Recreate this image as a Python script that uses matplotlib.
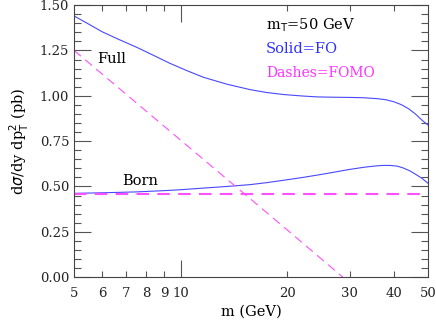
import matplotlib
matplotlib.use("Agg")
import matplotlib.pyplot as plt
from matplotlib.ticker import FixedLocator, NullFormatter, MultipleLocator

# FO curves (solid)
m_full = [5, 5.5, 6, 6.7, 7.5, 8.4, 9.3, 10.4, 11.6, 13.5, 15.7, 17.5, 19.5,
          22, 24.2, 27, 30, 33, 36, 38, 40, 42, 44, 46, 48, 50]
fo_full = [1.44, 1.395, 1.353, 1.31, 1.268, 1.222, 1.180, 1.139, 1.102, 1.064,
           1.034, 1.018, 1.007, 0.999, 0.994, 0.992, 0.991, 0.989, 0.984, 0.978,
           0.967, 0.951, 0.929, 0.900, 0.866, 0.838]

m_born = [5, 6, 7.5, 9, 10, 11.6, 13.5, 15.7, 17.5, 19.5, 22, 24.2, 27, 30,
          33, 35.5, 37.3, 39, 40.9, 42.5, 44.4, 46, 48, 50]
fo_born = [0.462, 0.465, 0.470, 0.477, 0.482, 0.491, 0.500, 0.510, 0.521, 0.534,
           0.549, 0.562, 0.578, 0.594, 0.606, 0.613, 0.616, 0.616, 0.612, 0.602,
           0.586, 0.568, 0.545, 0.517]

# FOMO curves (dashes)
m_fomo_full = [5, 10, 20, 28.7]
fomo_full = [1.25, 0.755, 0.26, 0.0]

m_fomo_born = [5, 50]
fomo_born = [0.456, 0.456]

xticks = [5, 6, 7, 8, 9, 10, 20, 30, 40, 50]

blue = "#4848ff"
magenta = "#ff50ff"
plt.rcParams["font.family"] = ["DejaVu Serif"]

fig = plt.figure(figsize=(4.36, 3.2), dpi=100)
ax = fig.add_axes([0.170, 0.134, 0.812, 0.850])

ax.plot(m_full, fo_full, color=blue, lw=0.8)
ax.plot(m_born, fo_born, color=blue, lw=0.8)
ax.plot(m_fomo_full, fomo_full, color=magenta, lw=0.8, dashes=(8, 5))
ax.plot(m_fomo_born, fomo_born, color=magenta, lw=1.5, dashes=(6, 4))

ax.set_xscale("log")
ax.set_xlim(5, 50)
ax.set_ylim(0, 1.5)

ax.xaxis.set_major_locator(FixedLocator([10]))
ax.xaxis.set_minor_locator(FixedLocator([6, 7, 8, 9, 20, 30, 40]))
ax.xaxis.set_major_formatter(NullFormatter())
ax.xaxis.set_minor_formatter(NullFormatter())
for v in xticks:
    ax.text(v, -0.035, str(v), ha="center", va="top", fontsize=9.5,
            transform=ax.get_xaxis_transform(), color="#222222")

ax.yaxis.set_major_locator(MultipleLocator(0.25))
ax.yaxis.set_minor_locator(MultipleLocator(0.05))
ax.yaxis.set_major_formatter(lambda v, p: f"{v:.2f}")

ax.tick_params(which="both", direction="in", top=True, right=True,
               color="#555555", labelsize=9.5, labelcolor="#222222")
ax.tick_params(which="major", length=12, width=0.8)
ax.tick_params(which="minor", length=5, width=0.8)
ax.tick_params(axis="x", which="minor", length=4)
for s in ax.spines.values():
    s.set_color("#444444")
    s.set_linewidth(0.8)

ax.set_xlabel("m (GeV)", fontsize=10.5, labelpad=16)
ax.set_ylabel(r"d$\sigma$/dy dp$_{\rm T}^2$ (pb)", fontsize=10.5, labelpad=6)

ax.text(6.4, 1.180, "Full", fontsize=10.5, ha="center", va="baseline")
ax.text(7.67, 0.509, "Born", fontsize=10.5, ha="center", va="baseline")

ax.text(0.542, 0.911, r"m$_{\rm T}$=50 GeV", transform=ax.transAxes, fontsize=10.5, va="baseline")
ax.text(0.542, 0.824, "Solid=FO", transform=ax.transAxes, fontsize=10.5, va="baseline", color="#3030ff")
ax.text(0.542, 0.736, "Dashes=FOMO", transform=ax.transAxes, fontsize=10, va="baseline", color="#ff30ff")

fig.savefig("out.png", dpi=100)
